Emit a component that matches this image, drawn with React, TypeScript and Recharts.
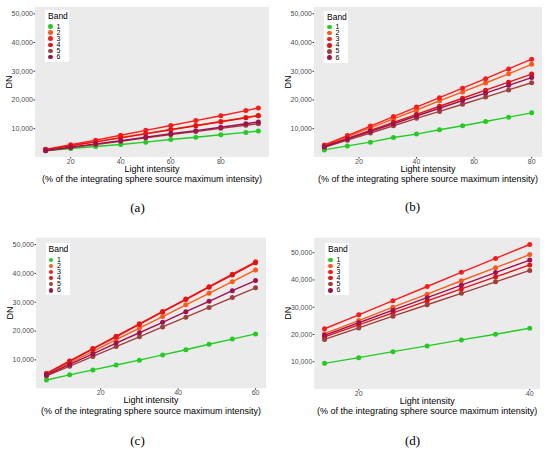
import { LineChart, Line, XAxis, YAxis, CartesianGrid, Legend } from 'recharts';

// light intensity (% of integrating sphere max) per panel
const xA = [10, 20, 30, 40, 50, 60, 70, 80, 90, 95];
const xB = [8, 16, 24, 32, 40, 48, 56, 64, 72, 80];
const xC = [6, 12, 18, 24, 30, 36, 42, 48, 54, 60];
const xD = [16, 20, 24, 28, 32, 36, 40];

// DN per band (1..6)
const bandsA = [
  [2300, 3100, 3800, 4500, 5300, 6200, 7000, 7900, 8700, 9200],
  [2700, 4100, 5500, 6900, 8300, 9700, 11100, 12500, 13900, 14700],
  [2800, 4400, 6000, 7700, 9400, 11100, 12800, 14500, 16300, 17200],
  [2700, 4000, 5400, 6800, 8200, 9600, 11000, 12400, 13800, 14500],
  [2300, 3400, 4500, 5600, 6800, 7900, 9000, 10100, 11200, 11700],
  [2400, 3500, 4700, 5800, 7000, 8200, 9300, 10500, 11700, 12350],
];
const bandsB = [
  [2600, 4000, 5300, 6900, 8100, 9600, 11000, 12500, 14000, 15500],
  [4100, 7200, 10300, 13400, 16500, 19700, 22800, 25900, 29100, 32400],
  [4300, 7600, 10900, 14200, 17500, 20800, 24100, 27400, 30800, 34200],
  [3800, 6600, 9400, 12200, 15000, 17800, 20600, 23400, 26200, 29000],
  [3500, 6000, 8500, 11000, 13600, 16000, 18500, 21000, 23500, 26000],
  [3700, 6400, 9100, 11700, 14400, 17100, 19800, 22400, 25100, 27800],
];
const bandsC = [
  [3000, 4800, 6500, 8200, 9900, 11700, 13500, 15400, 17200, 19000],
  [4900, 8900, 12900, 17000, 21000, 25000, 29100, 33100, 37100, 41200],
  [5300, 9600, 13900, 18200, 22500, 26800, 31100, 35400, 39700, 44000],
  [5200, 9500, 13800, 18000, 22300, 26600, 30900, 35200, 39400, 43700],
  [4400, 7800, 11200, 14600, 18000, 21400, 24800, 28200, 31600, 35000],
  [4700, 8400, 12100, 15800, 19400, 23000, 26700, 30300, 34000, 37500],
];
const bandsD = [
  [9400, 11500, 13700, 15800, 18000, 20100, 22300],
  [20300, 25100, 30000, 34800, 39700, 44500, 49300],
  [22100, 27200, 32400, 37600, 42800, 47900, 53000],
  [19100, 23500, 27900, 32300, 36700, 41100, 45500],
  [18200, 22400, 26700, 30900, 35100, 39300, 43500],
  [19700, 24300, 28900, 33500, 38100, 42700, 47300],
];

const bandNames = ['1', '2', '3', '4', '5', '6'];
const yTicks = [10000, 20000, 30000, 40000, 50000];
const xTicksA = [20, 40, 60, 80];
const xTicksB = [20, 40, 60, 80];
const xTicksC = [20, 40, 60];
const xTicksD = [20, 40];
const captions = ['(a)', '(b)', '(c)', '(d)'];

const bandColors = ['#22cc22', '#ff5a1a', '#ff1a1a', '#e81010', '#a0403a', '#a01050'];
const FONT = '"Liberation Sans", Arial, sans-serif';

interface PanelProps {
  x: number[];
  bands: number[][];
  xTicks: number[];
  xDomain: [number, number];
  yDomain: [number, number];
  caption: string;
  left: number;
  top: number;
  plot: { l: number; r: number; t: number; b: number };
  dnX: number;
  legendPos: { left: number; top: number };
  captionY: number;
}

function BandLegend({ payload }: any) {
  return (
    <div style={{ background: '#fff', width: 24, height: 52, position: 'relative', fontFamily: FONT }}>
      <div style={{ position: 'absolute', left: 3, top: 1, fontSize: 8.5, lineHeight: '10px', color: '#000' }}>Band</div>
      {(payload || []).map((p: any, i: number) => (
        <div
          key={p.value}
          style={{ position: 'absolute', left: 3, top: 13.5 + i * 6.1, height: 6, display: 'flex', alignItems: 'center' }}
        >
          <span style={{ width: 4.6, height: 4.6, borderRadius: '50%', background: p.color, display: 'inline-block' }} />
          <span style={{ fontSize: 7, lineHeight: '6px', marginLeft: 4, color: '#000' }}>{p.value}</span>
        </div>
      ))}
    </div>
  );
}

function Panel(props: PanelProps) {
  const { x, bands, xTicks, xDomain, yDomain, caption, left, top, plot, dnX, legendPos, captionY } = props;
  const W = 275;
  const H = 225;
  const axisH = 30;
  const rows = x.map((xv, i) => {
    const r: Record<string, number> = { x: xv };
    bands.forEach((b, k) => (r['b' + (k + 1)] = b[i]));
    return r;
  });

  const xTitle = ({ viewBox }: any) => {
    const cx = viewBox.x + viewBox.width / 2;
    return (
      <g fontFamily={FONT} fill="#000" textAnchor="middle">
        <text x={cx} y={viewBox.y + 14.8} fontSize={9}>Light intensity</text>
        <text x={cx} y={viewBox.y + 25.3} fontSize={9}>(% of the integrating sphere source maximum intensity)</text>
      </g>
    );
  };
  const yTitle = ({ viewBox }: any) => {
    const cy = viewBox.y + viewBox.height / 2;
    return (
      <text x={dnX} y={cy} fontSize={9} fontFamily={FONT} fill="#000" textAnchor="middle" dominantBaseline="central" transform={`rotate(-90 ${dnX} ${cy})`}>
        DN
      </text>
    );
  };

  return (
    <div style={{ position: 'absolute', left, top, width: W, height: H }}>
      <LineChart
        width={W}
        height={H}
        data={rows}
        margin={{ top: plot.t, right: W - plot.r, left: 0, bottom: H - plot.b - axisH }}
      >
        <CartesianGrid fill="#ebebeb" stroke="none" />
        <XAxis
          dataKey="x"
          type="number"
          domain={xDomain}
          ticks={xTicks}
          allowDataOverflow
          height={axisH}
          axisLine={false}
          tickSize={1.5}
          tickMargin={0.2}
          tickLine={{ stroke: '#333' }}
          tick={{ fontSize: 7, fill: '#4d4d4d', fontFamily: FONT }}
          label={{ content: xTitle }}
        />
        <YAxis
          type="number"
          domain={yDomain}
          ticks={yTicks}
          allowDataOverflow
          width={plot.l}
          axisLine={false}
          tickSize={1.5}
          tickMargin={0.5}
          tickLine={{ stroke: '#333' }}
          tick={{ fontSize: 7, fill: '#4d4d4d', fontFamily: FONT }}
          tickFormatter={(v: number) => v.toLocaleString('en-US')}
          label={{ content: yTitle }}
        />
        <Legend
          layout="vertical"
          align="center"
          verticalAlign="middle"
          wrapperStyle={{ left: legendPos.left, top: legendPos.top, width: 24, height: 52 }}
          content={<BandLegend />}
        />
        {bandNames.map((name, k) => (
          <Line
            key={name}
            dataKey={'b' + (k + 1)}
            name={name}
            stroke={bandColors[k]}
            strokeWidth={1.4}
            dot={{ r: 2.5, fill: bandColors[k], stroke: bandColors[k], strokeWidth: 0 }}
            activeDot={false}
            isAnimationActive={false}
          />
        ))}
      </LineChart>
      <div
        style={{
          position: 'absolute',
          left: 0,
          width: W,
          top: captionY - 8,
          textAlign: 'center',
          fontFamily: '"Liberation Serif", "DejaVu Serif", serif',
          fontSize: 13,
          lineHeight: '16px',
        }}
      >
        {caption}
      </div>
    </div>
  );
}

export default function App() {
  return (
    <div style={{ position: 'absolute', left: 0, top: 0, width: 550, height: 451, background: '#fff' }}>
      <Panel
        x={xA} bands={bandsA} xTicks={xTicksA} xDomain={[5.75, 99.25]} yDomain={[125, 52375]}
        caption={captions[0]} left={0} top={0}
        plot={{ l: 35, r: 269, t: 7, b: 157 }} dnX={8.5}
        legendPos={{ left: 45, top: 10 }} captionY={208}
      />
      <Panel
        x={xB} bands={bandsB} xTicks={xTicksB} xDomain={[4.4, 83.6]} yDomain={[125, 52375]}
        caption={captions[1]} left={275} top={0}
        plot={{ l: 39, r: 267, t: 7, b: 157 }} dnX={12.5}
        legendPos={{ left: 49, top: 10.5 }} captionY={207}
      />
      <Panel
        x={xC} bands={bandsC} xTicks={xTicksC} xDomain={[3.3, 62.7]} yDomain={[125, 52375]}
        caption={captions[2]} left={0} top={225}
        plot={{ l: 36, r: 266, t: 12.7, b: 163.3 }} dnX={10}
        legendPos={{ left: 45.5, top: 18.3 }} captionY={216}
      />
      <Panel
        x={xD} bands={bandsD} xTicks={xTicksD} xDomain={[14.8, 41.2]} yDomain={[0, 55500]}
        caption={captions[3]} left={275} top={225}
        plot={{ l: 39.3, r: 265, t: 12.7, b: 164 }} dnX={12.7}
        legendPos={{ left: 50, top: 18.3 }} captionY={216}
      />
    </div>
  );
}
